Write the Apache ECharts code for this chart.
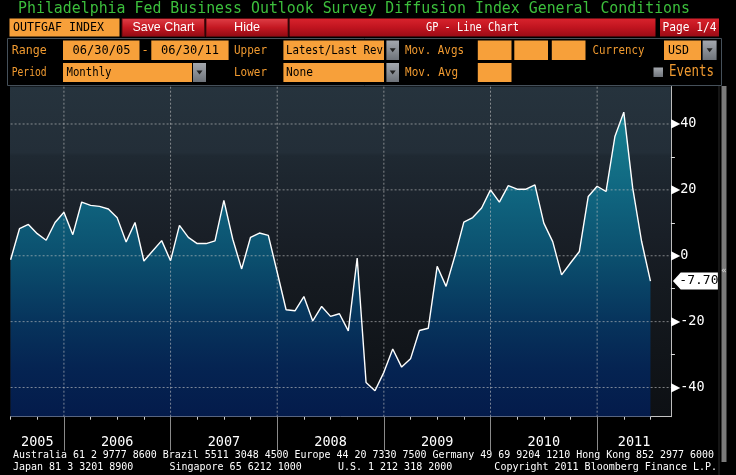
<!DOCTYPE html>
<html><head><meta charset="utf-8">
<script src="https://cdn.jsdelivr.net/npm/echarts@6/dist/echarts.min.js"></script>
<style>html,body{margin:0;padding:0;background:#000;}#c{width:736px;height:475px;}</style>
</head><body><div id="c"></div>
<script>
// ---------- data ----------
const months = [
 '2005-06','2005-07','2005-08','2005-09','2005-10','2005-11','2005-12',
 '2006-01','2006-02','2006-03','2006-04','2006-05','2006-06','2006-07','2006-08','2006-09','2006-10','2006-11','2006-12',
 '2007-01','2007-02','2007-03','2007-04','2007-05','2007-06','2007-07','2007-08','2007-09','2007-10','2007-11','2007-12',
 '2008-01','2008-02','2008-03','2008-04','2008-05','2008-06','2008-07','2008-08','2008-09','2008-10','2008-11','2008-12',
 '2009-01','2009-02','2009-03','2009-04','2009-05','2009-06','2009-07','2009-08','2009-09','2009-10','2009-11','2009-12',
 '2010-01','2010-02','2010-03','2010-04','2010-05','2010-06','2010-07','2010-08','2010-09','2010-10','2010-11','2010-12',
 '2011-01','2011-02','2011-03','2011-04','2011-05','2011-06'];
const values = [
 -1.2, 8.2, 9.5, 6.7, 4.7, 10.1, 13.2,
 6.4, 16.3, 15.3, 15.0, 14.2, 11.5, 4.2, 10.1, -1.6, 1.5, 4.6, -1.5,
 9.2, 5.6, 3.7, 3.7, 4.5, 16.8, 5.0, -4.0, 5.6, 6.9, 6.2, -5.0,
 -16.4, -16.7, -12.4, -19.8, -15.4, -18.4, -17.6, -22.8, -0.7, -38.5, -41.0, -35.4,
 -28.3, -33.8, -31.3, -22.7, -22.0, -3.2, -9.3, 0.0, 10.2, 11.6, 14.5, 20.0,
 16.3, 21.3, 20.2, 20.2, 21.5, 9.9, 4.3, -5.8, -2.2, 1.3, 18.0, 21.1,
 19.5, 36.2, 43.6, 20.6, 4.4, -7.7];
const yearLabels = ['2005','2006','2007','2008','2009','2010','2011'];
const yTickLabels = [-40, -20, 0, 20, 40];
const yMinorTicks = [-30, -10, 10, 30];
const lastLabel = values[values.length - 1].toFixed(2);

const title = 'Philadelphia Fed Business Outlook Survey Diffusion Index General Conditions';
const footer1 = 'Australia 61 2 9777 8600 Brazil 5511 3048 4500 Europe 44 20 7330 7500 Germany 49 69 9204 1210 Hong Kong 852 2977 6000';
const footer2 = 'Japan 81 3 3201 8900      Singapore 65 6212 1000      U.S. 1 212 318 2000       Copyright 2011 Bloomberg Finance L.P.';

// ---------- derived axis helpers ----------
const X_MAX = 74.3, Y_MIN = -48.86, Y_MAX = 51.38;
const boundaries = months.map((m,i)=>m.endsWith('-12')?i:-1).filter(i=>i>=0);
const quarterTicks = months.map((m,i)=>['03','06','09','12'].includes(m.slice(5))?i:-1).filter(i=>i>=0);
const spanEdges = [0, ...boundaries, X_MAX];
const yearCenters = yearLabels.map((y,k)=>(spanEdges[k]+spanEdges[k+1])/2);
const seriesData = values.map((v,i)=>[i,v]);

// ---------- text helpers ----------
const MONO = "'DejaVu Sans Mono'";
const SANS = "'Liberation Sans'";
const mctx = document.createElement('canvas').getContext('2d');
function txt(x, y, str, o) {
  o = o || {};
  const size = o.size || 12, fam = o.fam || MONO, weight = o.weight || 'normal';
  mctx.font = weight + ' ' + size + 'px ' + fam;
  const w = mctx.measureText(str).width;
  const sx = o.w ? o.w / w : 1;
  return {type:'text', x:x, y:y, z:20, scaleX:sx, silent:true,
    style:{text:str, fontSize:size, fontFamily:fam, fontWeight:weight, fill:o.color||'#fff',
      textAlign:o.align||'left', align:o.align||'left', textVerticalAlign:o.va||'middle', verticalAlign:o.va||'middle'}};
}
function rect(x,y,w,h,fill,o){ o=o||{}; return {type:'rect', z:o.z||10, silent:true, shape:{x:x,y:y,width:w,height:h}, style:{fill:fill, stroke:o.stroke||null, lineWidth:o.lw||1}}; }
const G = echarts.graphic;
const redGrad = new G.LinearGradient(0,0,0,1,[{offset:0,color:'#d8232d'},{offset:0.5,color:'#c0141f'},{offset:1,color:'#9a0c16'}]);
const btnGrad = new G.LinearGradient(0,0,0,1,[{offset:0,color:'#e04048'},{offset:0.5,color:'#c41822'},{offset:1,color:'#8e0a12'}]);
const arrowGrad = new G.LinearGradient(0,0,0,1,[{offset:0,color:'#a4a8ae'},{offset:1,color:'#6e737a'}]);
const ORANGE = '#f7a03a', OTXT = '#f09a30';
function arrow(x,y,w,h){ return [rect(x,y,w,h,arrowGrad), {type:'polygon', z:12, silent:true, shape:{points:[[x+w/2-3,y+h/2-2],[x+w/2+3,y+h/2-2],[x+w/2,y+h/2+2]]}, style:{fill:'#222'}}]; }

const P_TOP = 86.5, P_BOT = 416.7, P_LEFT = 10.6, P_RIGHT = 670.9;

const bgGrad = new G.LinearGradient(0,0,0,1,[
  {offset:0,color:'#26333d'},{offset:0.2,color:'#232e38'},{offset:0.21,color:'#1f2932'},
  {offset:0.32,color:'#1c242d'},{offset:0.45,color:'#191f27'},{offset:0.6,color:'#151a20'},
  {offset:0.8,color:'#11151a'},{offset:1,color:'#0d1014'}]);
const fillGrad = new G.LinearGradient(0,P_TOP,0,P_BOT,[
  {offset:0,color:'#1c8d9c'},{offset:0.1,color:'#177f90'},{offset:0.32,color:'#106680'},
  {offset:0.52,color:'#0b4f6e'},{offset:0.7,color:'#07355d'},{offset:0.85,color:'#052452'},
  {offset:1,color:'#041b4b'}], true);

const graphics = [
  txt(18, 9, title, {size:16.5, color:'#3cbf3c', w:672}),
  // row 1
  rect(9.5,18.5,110,18,ORANGE), txt(13,27.5,'OUTFGAF INDEX',{size:12,color:'#000',w:91}),
  rect(122,18.5,82.5,18,btnGrad,{stroke:'#5a0a0e'}), txt(163.5,27.5,'Save Chart',{size:13,fam:SANS,align:'center',w:62}),
  rect(206,18.5,82,18,btnGrad,{stroke:'#5a0a0e'}), txt(247,27.5,'Hide',{size:13,fam:SANS,align:'center',w:26}),
  rect(289.5,18.5,366,18,redGrad), txt(472.5,27.5,'GP - Line Chart',{size:12,align:'center',w:93}),
  rect(660,18.5,59,18,redGrad), txt(689.5,27.5,'Page 1/4',{size:12,align:'center',w:54}),
  // panel
  {type:'rect', z:9, silent:true, shape:{x:7.5,y:38.5,width:714,height:47}, style:{fill:'#000', stroke:'#45505a', lineWidth:1}},
  // row 2
  txt(11.7,51,'Range',{size:12,color:OTXT,w:35}),
  rect(63,40.5,76.5,19.5,ORANGE), txt(101.5,50.5,'06/30/05',{size:12.5,color:'#000',align:'center',w:58}),
  txt(145,50.5,'-',{size:12,color:OTXT,align:'center'}),
  rect(151.3,40.5,77.3,19.5,ORANGE), txt(190,50.5,'06/30/11',{size:12.5,color:'#000',align:'center',w:58}),
  txt(234,51,'Upper',{size:12,color:OTXT,w:33}),
  rect(283.4,40.5,100.6,19.5,ORANGE), txt(286,50.5,'Latest/Last Rev',{size:12,color:'#000',w:97}),
  ...arrow(386.4,40.5,12.6,19.5),
  txt(405,51,'Mov. Avgs',{size:12,color:OTXT,w:59}),
  rect(477.8,40.5,33.7,19.5,ORANGE), rect(514.3,40.5,33.7,19.5,ORANGE), rect(551.8,40.5,33.7,19.5,ORANGE),
  txt(592.5,51,'Currency',{size:12,color:OTXT,w:52}),
  rect(664,40.5,37,19.5,ORANGE), txt(668,50.5,'USD',{size:12.5,color:'#000',w:21}),
  ...arrow(702.6,40.5,14,19.5),
  // row 3
  txt(11.7,73,'Period',{size:12,color:OTXT,w:35}),
  rect(63,63,129,19,ORANGE), txt(66.5,72.5,'Monthly',{size:12.5,color:'#000',w:45}),
  ...arrow(193,63,13,19),
  txt(234,73,'Lower',{size:12,color:OTXT,w:33}),
  rect(283.4,63,100.6,19,ORANGE), txt(286,72.5,'None',{size:12.5,color:'#000',w:27}),
  ...arrow(386.4,63,12.6,19),
  txt(405,73,'Mov. Avg',{size:12,color:OTXT,w:53}),
  rect(477.8,63,33.7,19,ORANGE),
  rect(653.5,67.5,9.5,9.5,arrowGrad),
  txt(669,72,'Events',{size:15,color:OTXT,w:45}),
  // plot background
  {type:'rect', z:-5, silent:true, shape:{x:P_LEFT-0.6,y:P_TOP,width:P_RIGHT-P_LEFT+0.6,height:P_BOT-P_TOP}, style:{fill:bgGrad}},
  // right scrollbar
  rect(718.5,86,1,389,'#2a2a2a'), rect(721.5,86,5,376,'#7b7b7b'),
  txt(724,271,'«',{size:9,color:'#ddd',align:'center'}),
  // footer
  txt(13,455.5,footer1,{size:10,w:701}),
  txt(13,467.5,footer2,{size:10,w:704})
];

// gridline series (drawn through the axes, above the area fill)
const gridStyle = {type:[2,2], color:'rgba(195,195,195,0.62)', width:1};
const gridSeries = [
  ...yTickLabels.map(v=>({type:'line', data:[[0,v],[X_MAX,v]], z:2, silent:true, showSymbol:false, symbol:'none', lineStyle:gridStyle})),
  ...boundaries.map(b=>({type:'line', data:[[b,Y_MIN],[b,Y_MAX]], z:2, silent:true, showSymbol:false, symbol:'none', lineStyle:gridStyle}))
];

const chart = echarts.init(document.getElementById('c'), null, {renderer:'canvas'});
chart.setOption({
  backgroundColor:'#000',
  animation:false,
  graphic: graphics,
  grid:{left:P_LEFT, top:P_TOP, width:P_RIGHT-P_LEFT, height:P_BOT-P_TOP, containLabel:false},
  xAxis:[{
    type:'value', min:0, max:X_MAX, position:'bottom',
    axisLine:{show:true, onZero:false, lineStyle:{color:'#c4c4c4', width:1}},
    axisTick:{show:true, customValues:quarterTicks, length:3, lineStyle:{color:'#d0d0d0'}},
    axisLabel:{show:true, customValues:yearCenters, margin:19, color:'#fff', fontFamily:MONO, fontSize:13.5,
      formatter:function(v){ let b=0; yearCenters.forEach((c,k)=>{ if(Math.abs(c-v)<Math.abs(yearCenters[b]-v)) b=k; }); return yearLabels[b]; }},
    splitLine:{show:false}
  },{
    type:'value', min:0, max:X_MAX, position:'bottom',
    axisLine:{show:false, onZero:false},
    axisTick:{show:true, customValues:boundaries, length:34, lineStyle:{color:'#8a8a8a'}},
    axisLabel:{show:false}, splitLine:{show:false}
  }],
  yAxis:{
    type:'value', min:Y_MIN, max:Y_MAX, position:'right',
    axisLine:{show:true, onZero:false, lineStyle:{color:'#bdbdbd', width:1}},
    axisTick:{show:true, customValues:yMinorTicks, length:4, lineStyle:{color:'#e0e0e0'}},
    axisLabel:{show:true, customValues:yTickLabels, margin:0, color:'#fff',
      formatter:function(v){ return '{t|▶}{v|' + v + '}'; },
      rich:{t:{fontFamily:"'DejaVu Sans'", fontSize:12, color:'#fff'}, v:{fontFamily:MONO, fontSize:13.5, color:'#fff', padding:[0,0,0,0]}}},
    splitLine:{show:false}
  },
  series:[{
    type:'line', data:seriesData, z:1, showSymbol:false, symbol:'none', silent:true,
    lineStyle:{width:0}, areaStyle:{origin:'start', color:fillGrad, opacity:1}
  },
  ...gridSeries,
  {
    type:'line', data:seriesData, z:3, showSymbol:false, symbol:'none', silent:true, clip:false,
    lineStyle:{width:1.4, color:'#ffffff'},
    markPoint:{silent:true, animation:false,
      data:[{coord:[X_MAX, values[values.length-1]], value:values[values.length-1]}],
      symbol:'path://M0,8L8,0L46,0L46,16L8,16Z', symbolSize:[45,17], symbolKeepAspect:false, symbolOffset:[24.5,0],
      itemStyle:{color:'#fff'},
      label:{show:true, position:'inside', offset:[3.5,0], formatter:lastLabel, color:'#000', fontFamily:MONO, fontSize:13}}
  }]
});
</script></body></html>
